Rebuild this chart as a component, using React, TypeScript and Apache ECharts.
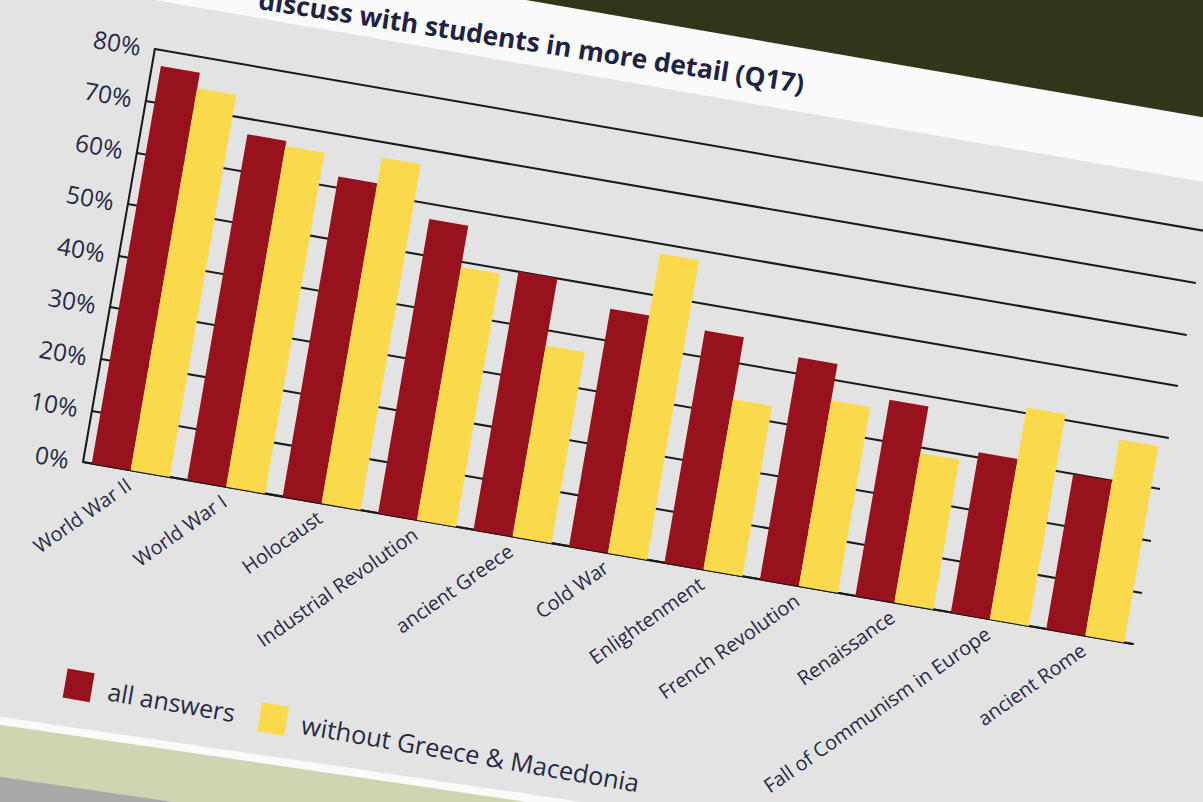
import React, { useEffect, useRef } from "react";
import * as echarts from "echarts";

const categories = [
  "World War II",
  "World War I",
  "Holocaust",
  "Industrial Revolution",
  "ancient Greece",
  "Cold War",
  "Enlightenment",
  "French Revolution",
  "Renaissance",
  "Fall of Communism in Europe",
  "ancient Rome",
];
const allAnswers = [77, 67, 62, 57, 50, 46, 45, 43, 38, 31, 30];
const withoutGreeceMacedonia = [74, 66, 67, 49, 37, 58, 33, 36, 29, 41, 38];
const seriesNames = ["all answers", "without Greece & Macedonia"];
const titleText = "discuss with students in more detail (Q17)";

const RED = "#98121e";
const YELLOW = "#fad94b";
const INK = "#262a46";
const FONT = "'Open Sans', 'Noto Sans', sans-serif";

// bottom edge of the grey panel (local coords), slightly rising to the right
const B0 = 825.4;
const BSLOPE = -0.0261;
const W = 1500;
const H = 1000;

export default function App() {
  const ref = useRef<HTMLDivElement>(null);

  useEffect(() => {
    if (!ref.current) return;
    const chart = echarts.init(ref.current, null, { renderer: "svg" });
    const bAt = (x: number, off: number) => B0 + BSLOPE * x + off;
    const band = (off: number, fill: string) => ({
      type: "polygon",
      z: -50,
      silent: true,
      shape: {
        points: [
          [0, bAt(0, off)],
          [W, bAt(W, off)],
          [W, H],
          [0, H],
        ],
      },
      style: { fill },
    });
    chart.setOption({
      animation: false,
      backgroundColor: "transparent",
      textStyle: { fontFamily: FONT },
      graphic: [
        { type: "rect", z: -60, silent: true, shape: { x: 0, y: 37, width: W, height: H }, style: { fill: "#fafafa" } },
        { type: "rect", z: -55, silent: true, shape: { x: 0, y: 99.5, width: W, height: H }, style: { fill: "#e3e3e3" } },
        band(0, "#fafafa"),
        band(8, "#cdd5b1"),
        band(58.5, "#a9a9a9"),
        {
          type: "text",
          z: 10,
          x: 293,
          y: 94,
          rotation: 0.018,
          style: {
            text: titleText,
            x: 0,
            y: 0,
            textAlign: "left",
            textVerticalAlign: "bottom",
            font: `bold 26px ${FONT}`,
            fill: "#1f2342",
          },
        },
      ],
      legend: [
        {
          data: [seriesNames[0]],
          left: 220,
          top: 763,
          padding: 0,
          itemWidth: 27,
          itemHeight: 29,
          icon: "rect",
          textStyle: { fontSize: 24.5, color: INK, padding: [0, 0, 0, 11], fontFamily: FONT },
        },
        {
          data: [seriesNames[1]],
          left: 414.6,
          top: 763,
          padding: 0,
          itemWidth: 27,
          itemHeight: 29,
          icon: "rect",
          textStyle: { fontSize: 25, color: INK, padding: [0, 0, 0, 10], fontFamily: FONT },
        },
      ],
      grid: { left: 200, top: 147, width: 1050, height: 413, containLabel: false },
      xAxis: {
        type: "category",
        data: categories,
        axisLine: { show: true, lineStyle: { color: "#1a1a1a", width: 2 } },
        axisTick: { show: false },
        axisLabel: {
          rotate: 45,
          fontSize: 19.5,
          margin: 12,
          color: INK,
          interval: 0,
          fontFamily: FONT,
        },
      },
      yAxis: {
        type: "value",
        min: 0,
        max: 80,
        interval: 10,
        axisLine: { show: true, lineStyle: { color: "#1a1a1a", width: 2 } },
        axisTick: { show: false },
        splitLine: { show: true, lineStyle: { color: "#1a1a1a", width: 2 } },
        axisLabel: {
          formatter: "{value}%",
          fontSize: 24,
          margin: 14,
          color: INK,
          padding: [0, 0, 12, 0],
          fontFamily: FONT,
        },
      },
      series: [
        {
          name: seriesNames[0],
          type: "bar",
          data: allAnswers,
          barWidth: 39,
          barGap: "0%",
          itemStyle: { color: RED },
        },
        {
          name: seriesNames[1],
          type: "bar",
          data: withoutGreeceMacedonia,
          barWidth: 39,
          barGap: "0%",
          itemStyle: { color: YELLOW },
        },
      ],
    });
    return () => chart.dispose();
  }, []);

  return (
    <div
      style={{
        position: "fixed",
        left: 0,
        top: 0,
        width: 1203,
        height: 802,
        overflow: "hidden",
        background: "#33351b",
      }}
    >
      <div
        ref={ref}
        style={{
          position: "absolute",
          left: 0,
          top: 0,
          width: W,
          height: H,
          transformOrigin: "0 0",
          transform: "matrix(1, 0.1733, -0.174, 1, -19.56, -132.66)",
        }}
      />
    </div>
  );
}
